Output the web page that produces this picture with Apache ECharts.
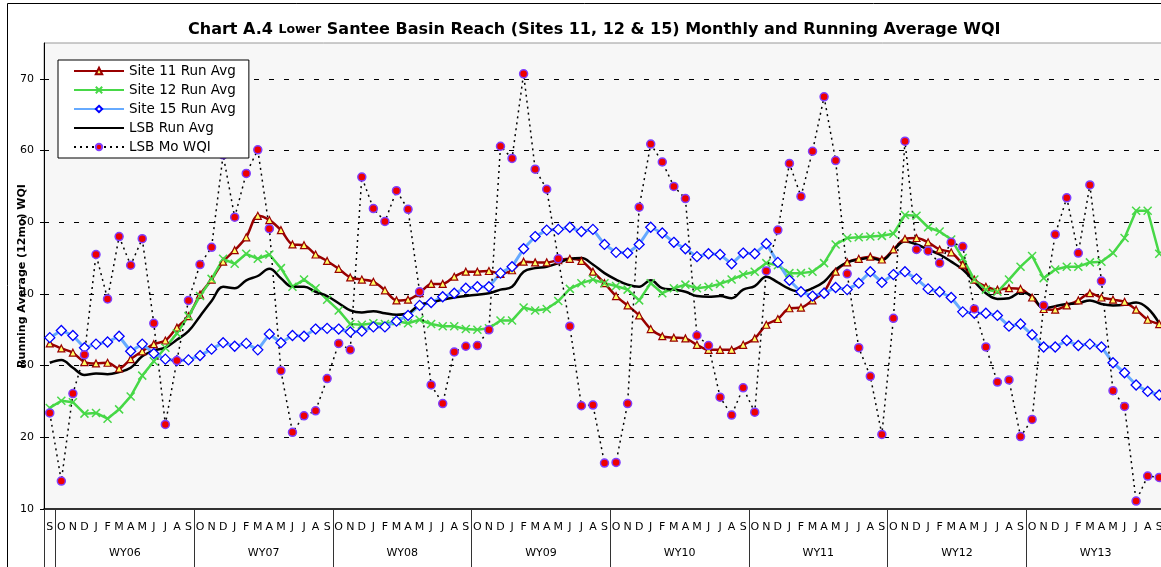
<!DOCTYPE html>
<html>
<head>
<meta charset="utf-8">
<title>Chart A.4 Lower Santee Basin Reach WQI</title>
<script src="https://cdn.jsdelivr.net/npm/echarts@6/dist/echarts.min.js"></script>
<style>
html, body { margin: 0; padding: 0; background: #fff; }
#main { width: 1161px; height: 567px; }
</style>
</head>
<body>
<div id="main"></div>
<script>
'use strict';

// axis labels
var firstMonth = 'S';
var monthLetters = ['O', 'N', 'D', 'J', 'F', 'M', 'A', 'M', 'J', 'J', 'A', 'S'];
var waterYears = ['WY06', 'WY07', 'WY08', 'WY09', 'WY10', 'WY11', 'WY12', 'WY13'];

// running averages (12 mo) and monthly WQI, Sep 2005 .. Sep 2013
var site11 = [33.1, 32.4, 31.8, 30.5, 30.3, 30.4, 29.6, 30.9, 32.0, 33.0, 33.5, 35.3, 36.9,
    39.9, 42.0, 44.5, 46.1, 47.9, 50.9, 50.3, 48.9, 46.9, 46.8, 45.5, 44.6,
    43.5, 42.3, 42.0, 41.7, 40.5, 39.1, 39.2, 40.1, 41.4, 41.4, 42.4, 43.1,
    43.1, 43.2, 42.8, 43.3, 44.5, 44.4, 44.4, 44.7, 44.9, 44.6, 43.1, 41.5,
    39.7, 38.4, 37.0, 35.1, 34.1, 33.9, 33.8, 32.9, 32.2, 32.2, 32.2, 32.9,
    33.8, 35.7, 36.5, 38.0, 38.1, 39.1, 40.3, 43.1, 44.4, 44.9, 45.2, 44.8,
    46.2, 47.7, 47.8, 47.2, 46.2, 45.8, 44.1, 42.0, 41.0, 40.6, 40.8, 40.7,
    39.5, 37.9, 37.8, 38.4, 39.1, 40.1, 39.5, 39.2, 38.9, 37.8, 36.4, 35.8];
var site12 = [24.1, 25.1, 24.9, 23.3, 23.4, 22.6, 23.9, 25.7, 28.6, 30.6, 32.5, 34.5, 36.9,
    39.7, 42.1, 44.9, 44.2, 45.6, 44.9, 45.5, 43.6, 41.0, 42.0, 40.8, 39.2,
    37.7, 35.8, 35.7, 35.9, 35.8, 36.2, 35.9, 36.4, 35.8, 35.5, 35.5, 35.1,
    35.0, 35.2, 36.3, 36.3, 38.1, 37.7, 37.9, 39.0, 40.7, 41.5, 42.0, 41.5,
    41.1, 40.6, 39.1, 41.5, 40.1, 40.8, 41.3, 40.8, 41.0, 41.4, 42.0, 42.7,
    43.1, 44.3, 44.0, 42.9, 42.9, 43.1, 44.3, 46.9, 47.8, 47.9, 48.0, 48.1,
    48.4, 51.0, 50.9, 49.3, 48.7, 47.6, 45.0, 42.0, 40.6, 40.3, 42.0, 43.8,
    45.3, 42.2, 43.4, 43.8, 43.8, 44.4, 44.5, 45.7, 47.8, 51.6, 51.6, 45.6];
var site15 = [33.9, 34.9, 34.2, 32.5, 33.0, 33.3, 34.1, 32.0, 33.0, 31.7, 30.9, 30.7, 30.8,
    31.4, 32.3, 33.2, 32.7, 33.1, 32.2, 34.4, 33.2, 34.2, 34.1, 35.1, 35.2,
    35.1, 34.7, 34.8, 35.4, 35.4, 36.2, 37.0, 38.4, 38.8, 39.6, 40.1, 40.8,
    41.0, 41.0, 42.9, 43.8, 46.3, 48.0, 48.9, 49.0, 49.3, 48.7, 49.0, 46.9,
    45.8, 45.7, 46.9, 49.3, 48.5, 47.2, 46.3, 45.2, 45.6, 45.5, 44.2, 45.7,
    45.6, 47.0, 44.4, 41.9, 40.3, 39.7, 40.1, 40.9, 40.6, 41.5, 43.1, 41.6,
    42.7, 43.1, 42.1, 40.7, 40.3, 39.5, 37.5, 37.3, 37.3, 37.0, 35.5, 35.8,
    34.3, 32.6, 32.6, 33.5, 32.8, 33.0, 32.6, 30.4, 29.0, 27.3, 26.4, 25.9];
var lsbRun = [30.4, 30.8, 29.7, 28.7, 28.9, 28.8, 29.1, 29.7, 31.3, 32.1, 32.5, 33.6, 34.8,
    36.9, 39.0, 41.0, 40.8, 41.9, 42.5, 43.5, 42.2, 41.0, 41.0, 40.3, 39.7,
    38.7, 37.7, 37.4, 37.6, 37.3, 37.1, 37.3, 38.5, 38.8, 39.2, 39.5, 39.7,
    39.9, 40.1, 40.6, 41.0, 43.1, 43.6, 43.8, 44.3, 44.9, 45.0, 44.1, 42.9,
    42.0, 41.3, 41.0, 41.9, 40.8, 40.6, 40.3, 39.7, 39.6, 39.7, 39.4, 40.6,
    41.1, 42.4, 41.6, 40.7, 40.3, 40.8, 41.7, 43.4, 44.4, 44.8, 45.0, 44.7,
    46.1, 47.3, 46.9, 46.2, 45.5, 44.5, 43.4, 41.7, 40.1, 39.3, 39.4, 40.2,
    39.7, 38.0, 38.3, 38.6, 38.7, 39.1, 38.6, 38.4, 38.5, 38.8, 38.0, 35.9];
var lsbMo = [23.4, 13.9, 26.1, 31.5, 45.5, 39.3, 48.0, 44.0, 47.7, 35.9, 21.8, 30.7, 39.1,
    44.1, 46.5, 59.4, 50.7, 56.8, 60.1, 49.1, 29.3, 20.7, 23.0, 23.7, 28.2,
    33.1, 32.2, 56.3, 51.9, 50.1, 54.4, 51.8, 40.3, 27.3, 24.7, 31.9, 32.7,
    32.8, 35.0, 60.6, 58.9, 70.7, 57.4, 54.6, 44.9, 35.5, 24.4, 24.5, 16.4,
    16.5, 24.7, 52.1, 60.9, 58.4, 55.0, 53.3, 34.2, 32.8, 25.6, 23.1, 26.9,
    23.5, 43.2, 48.9, 58.2, 53.6, 59.9, 67.5, 58.6, 42.8, 32.5, 28.5, 20.4,
    36.6, 61.3, 46.2, 46.0, 44.3, 47.2, 46.6, 37.9, 32.6, 27.7, 28.0, 20.1,
    22.5, 38.4, 48.3, 53.4, 45.7, 55.2, 41.8, 26.5, 24.3, 11.1, 14.6, 14.4];

var FONT = '"DejaVu Sans", Verdana, sans-serif';

// month categories and water-year bands
var categories = [firstMonth];
waterYears.forEach(function () {
    categories = categories.concat(monthLetters);
});
var yearBounds = [0];
var yearMids = [];
waterYears.forEach(function (wy, i) {
    yearBounds.push(1 + 12 * i);
    yearMids.push(1 + 12 * i + 6);
});
yearBounds.push(categories.length);

var myChart = echarts.init(document.getElementById('main'));

var option = {
    animation: false,
    backgroundColor: '#fff',
    graphic: [{
        type: 'rect',
        silent: true,
        shape: { x: 7.5, y: 3.5, width: 1200, height: 620 },
        style: { fill: 'none', stroke: '#000', lineWidth: 1 }
    }],
    title: {
        text: '{b|Chart A.4 }{s|Lower}{b| Santee Basin Reach (Sites 11, 12 & 15) Monthly and Running Average WQI}',
        left: 188,
        top: 22,
        padding: 0,
        textStyle: {
            rich: {
                b: { fontSize: 16, fontWeight: 'bold', fontFamily: FONT, color: '#000' },
                s: { fontSize: 12.5, fontWeight: 'bold', fontFamily: FONT, color: '#000' }
            }
        }
    },
    legend: {
        orient: 'vertical',
        left: 58,
        top: 60,
        padding: [4, 13, 4, 15],
        itemGap: 5,
        itemWidth: 50,
        itemHeight: 8,
        selectedMode: false,
        backgroundColor: '#fff',
        borderColor: '#000',
        borderWidth: 1,
        textStyle: { fontSize: 13.5, fontFamily: FONT, color: '#000' },
        data: [
            'Site 11 Run Avg',
            'Site 12 Run Avg',
            'Site 15 Run Avg',
            { name: 'LSB Run Avg', itemStyle: { opacity: 0 } },
            'LSB Mo WQI'
        ]
    },
    grid: {
        left: 44,
        top: 43,
        width: 1121,
        height: 466,
        outerBoundsMode: 'none',
        show: true,
        backgroundColor: '#f7f7f7',
        borderColor: '#999',
        borderWidth: 1
    },
    xAxis: [
        {
            type: 'category',
            data: categories,
            boundaryGap: true,
            axisLine: { lineStyle: { color: '#000', width: 1.5 } },
            axisTick: { show: false },
            axisLabel: { interval: 0, fontSize: 11, fontFamily: FONT, color: '#000', margin: 13 },
            splitLine: { show: false }
        },
        {
            type: 'value',
            position: 'bottom',
            min: 0,
            max: categories.length,
            axisLine: { show: false },
            splitLine: { show: false },
            axisTick: {
                show: true,
                length: 58,
                customValues: yearBounds,
                lineStyle: { color: '#333', width: 1 }
            },
            axisLabel: {
                customValues: yearMids,
                fontSize: 11,
                fontFamily: FONT,
                color: '#000',
                margin: 39,
                formatter: function (v) {
                    return waterYears[(v - 7) / 12];
                }
            }
        }
    ],
    yAxis: {
        type: 'value',
        min: 10,
        max: 75,
        interval: 10,
        name: 'Running Average (12mo) WQI',
        nameLocation: 'middle',
        nameGap: 16,
        nameMoveOverlap: false,
        nameTextStyle: { fontSize: 11, fontWeight: 'bold', fontFamily: FONT, color: '#000' },
        axisLine: { show: true, lineStyle: { color: '#000', width: 1 } },
        axisTick: { show: true, length: 4, lineStyle: { color: '#000' } },
        axisLabel: { fontSize: 11, fontFamily: FONT, color: '#000', margin: 10, showMaxLabel: false },
        splitLine: {
            show: true,
            showMinLine: false,
            showMaxLine: false,
            lineStyle: { color: '#000', type: [5, 10], width: 1 }
        }
    },
    series: [
        {
            name: 'Site 11 Run Avg',
            type: 'line',
            data: site11,
            smooth: 0.3,
            symbol: 'triangle',
            symbolSize: 7,
            lineStyle: { color: '#990000', width: 2.5 },
            itemStyle: { color: '#ffff66', borderColor: '#990000', borderWidth: 1.2 }
        },
        {
            name: 'Site 12 Run Avg',
            type: 'line',
            data: site12,
            symbol: 'path://M0,0L10,10M10,0L0,10',
            symbolSize: 8,
            lineStyle: { color: '#47d847', width: 2.5 },
            itemStyle: { color: '#47d847', borderColor: '#47d847', borderWidth: 1.5 }
        },
        {
            name: 'Site 15 Run Avg',
            type: 'line',
            data: site15,
            symbol: 'diamond',
            symbolSize: 10,
            lineStyle: { color: '#66aaff', width: 3 },
            itemStyle: { color: '#fff', borderColor: '#0000ff', borderWidth: 1.3 }
        },
        {
            name: 'LSB Run Avg',
            type: 'line',
            data: lsbRun,
            smooth: 0.4,
            symbol: 'none',
            lineStyle: { color: '#000', width: 2.5 },
            itemStyle: { color: '#000' }
        },
        {
            name: 'LSB Mo WQI',
            type: 'line',
            data: lsbMo,
            symbol: 'circle',
            symbolSize: 8,
            lineStyle: { color: '#000', width: 1.5, type: [2, 4] },
            itemStyle: { color: '#ee0000', borderColor: '#7f3fff', borderWidth: 1.5 }
        }
    ]
};

myChart.setOption(option);
</script>
</body>
</html>
